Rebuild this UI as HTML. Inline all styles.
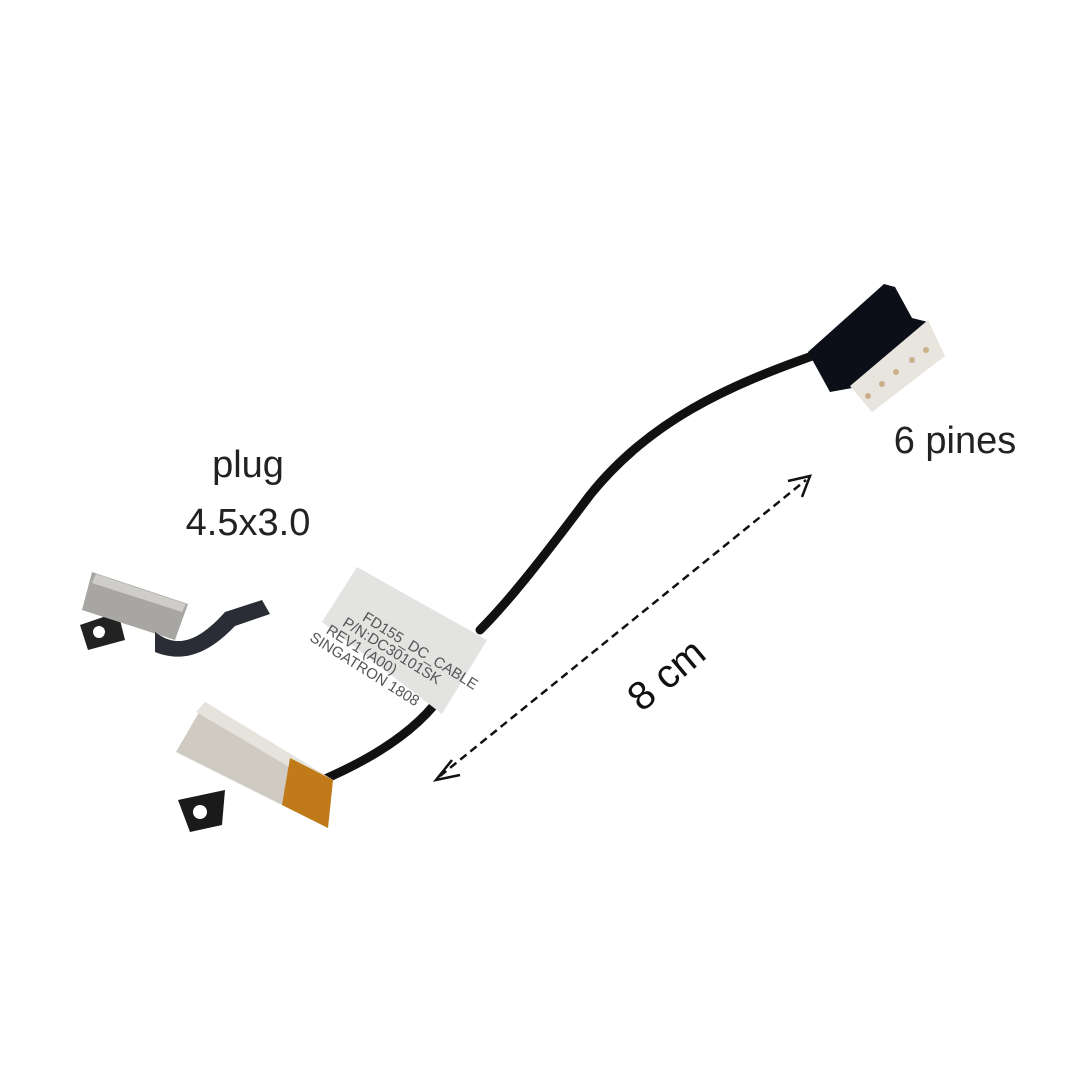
<!DOCTYPE html>
<html><head><meta charset="utf-8"><style>html,body{margin:0;padding:0;background:#fff}svg{display:block}</style></head>
<body>
<svg width="1080" height="1080" viewBox="0 0 1080 1080" xmlns="http://www.w3.org/2000/svg" font-family="Liberation Sans, sans-serif">
<rect width="1080" height="1080" fill="#fff"/>
<!-- cable -->
<path d="M815,355 C730,385 650,420 590,495 C545,555 510,600 480,630 M445,690 C420,730 370,760 318,782" stroke="#111" stroke-width="9" fill="none" stroke-linecap="round"/>
<!-- connector -->
<polygon points="808,352 884,284 895,287 912,318 928,322 852,388 830,392" fill="#0c0f18"/>
<polygon points="850,386 928,320 945,356 872,412" fill="#e8e4de"/>
<g fill="#c9b08a"><circle cx="868" cy="396" r="3"/><circle cx="882" cy="384" r="3"/><circle cx="896" cy="372" r="3"/><circle cx="912" cy="360" r="3"/><circle cx="926" cy="350" r="3"/></g>
<!-- label -->
<polygon points="357,567 487,640 442,714 322,622" fill="#e3e3e1"/>
<g transform="translate(336,604) rotate(32)" font-size="15" fill="#555">
<text x="30" y="0">FD155_DC_CABLE</text><text x="16" y="15">P/N:DC30101SK</text><text x="6" y="30">REV1 (A00)</text><text x="-4" y="45">SINGATRON 1808</text></g>
<!-- jack -->
<path d="M178,800 L225,790 L222,825 L190,832 Z" fill="#1a1a1a"/>
<circle cx="200" cy="812" r="7" fill="#fff"/>
<polygon points="205,702 333,780 328,828 176,752" fill="#cfcac2"/>
<polygon points="205,702 333,780 325,788 196,712" fill="#e6e2dc"/>
<polygon points="290,758 333,780 328,828 282,805" fill="#c07a1a"/>
<!-- small plug -->
<path d="M80,625 L118,612 L125,640 L88,650 Z" fill="#222"/>
<circle cx="99" cy="632" r="6" fill="#fff"/>
<polygon points="92,572 188,604 175,640 82,610" fill="#a8a6a3"/>
<polygon points="96,574 186,604 182,612 92,583" fill="#cfcdca"/>
<path d="M155,632 C178,650 200,640 225,612 L262,600 L270,614 L235,626 C210,652 185,664 155,652 Z" fill="#2a2d36"/>
<!-- dashed arrow -->
<line x1="440" y1="776" x2="806" y2="480" stroke="#111" stroke-width="2.5" stroke-dasharray="8,5"/>
<polyline points="452,760 436,780 460,775" fill="none" stroke="#111" stroke-width="2.5"/>
<polyline points="788,481 810,476 802,497" fill="none" stroke="#111" stroke-width="2.5"/>
<!-- text -->
<text x="248" y="477" font-size="38" text-anchor="middle" fill="#222">plug</text>
<text x="248" y="535" font-size="38" text-anchor="middle" fill="#222">4.5x3.0</text>
<text x="955" y="453" font-size="38" text-anchor="middle" fill="#222">6 pines</text>
<text transform="translate(675,685) rotate(-40)" font-size="40" text-anchor="middle" fill="#111">8 cm</text>
</svg>
</body></html>
